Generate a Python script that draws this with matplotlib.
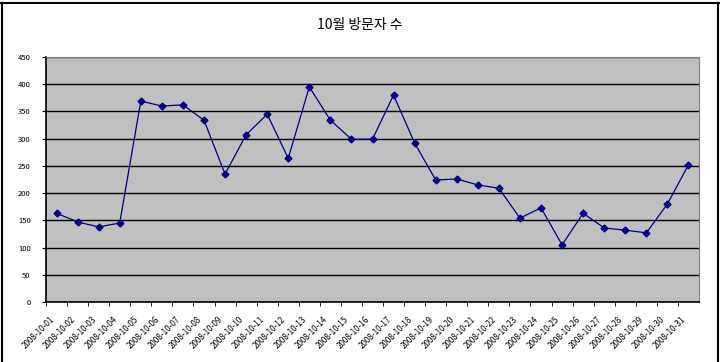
import matplotlib
matplotlib.use("Agg")
import matplotlib.pyplot as plt
import matplotlib.transforms as mtransforms
from matplotlib.lines import Line2D

plt.rcParams['font.family'] = ['Noto Sans CJK KR', 'DejaVu Sans']

days = list(range(1, 32))
labels = ["2008-10-%02d" % d for d in days]
visitors = [163, 147, 138, 145, 369, 360, 362, 334, 235, 307, 345, 264, 395, 334, 299,
            299, 380, 292, 224, 226, 215, 209, 154, 173, 105, 163, 136, 132, 127, 180, 252]
yticks = [0, 50, 100, 150, 200, 250, 300, 350, 400, 450]

fig = plt.figure(figsize=(7.2, 3.62), dpi=100)
ax = fig.add_axes([46 / 720, 1 - 302 / 362, 653 / 720, 245 / 362])
ax.set_facecolor("#c0c0c0")

ax.plot(days, visitors, color="#000080", linewidth=0.9, marker="D", markersize=3.5,
        markerfacecolor="#000080", markeredgecolor="#000080", zorder=3)

ax.set_xlim(0.5, 31.5)
ax.set_ylim(0, 450)
ax.set_yticks(yticks)
ax.set_yticklabels([str(v) for v in yticks], fontsize=5.5)
ax.grid(axis="y", color="black", linewidth=1)
ax.set_axisbelow(True)

ax.set_xticks(days)
ax.set_xticklabels(labels, rotation=45, ha="right", rotation_mode="anchor", fontsize=5.8)
ax.set_xticks([d + 0.5 for d in range(0, 31)], minor=True)
ax.tick_params(axis="x", which="major", length=0, pad=9)
ax.tick_params(axis="x", which="minor", length=3, color="black", direction="out")
ax.tick_params(axis="y", length=3, color="black", pad=8)

# labels sit a little left of their category, as in the original
shift = mtransforms.ScaledTranslation(-7 / 100, 0, fig.dpi_scale_trans)
for lab in ax.get_xticklabels():
    lab.set_transform(lab.get_transform() + shift)

for side in ["top", "right"]:
    ax.spines[side].set_color("#808080")
for side in ["left", "bottom"]:
    ax.spines[side].set_color("black")
    ax.spines[side].set_linewidth(1.2)

fig.text(0.5, 1 - 25 / 362, "10월 방문자 수", ha="center", va="center", fontsize=10)

# outer chart frame
fig.add_artist(Line2D([1.5 / 720, 1.5 / 720], [0, 1 - 3 / 362], transform=fig.transFigure, color="black", linewidth=1.5))
fig.add_artist(Line2D([717.5 / 720, 717.5 / 720], [0, 1 - 3 / 362], transform=fig.transFigure, color="black", linewidth=1.5))
fig.add_artist(Line2D([0, 1], [1 - 3 / 362, 1 - 3 / 362], transform=fig.transFigure, color="black", linewidth=1.5))

fig.savefig("out.png", dpi=100)
